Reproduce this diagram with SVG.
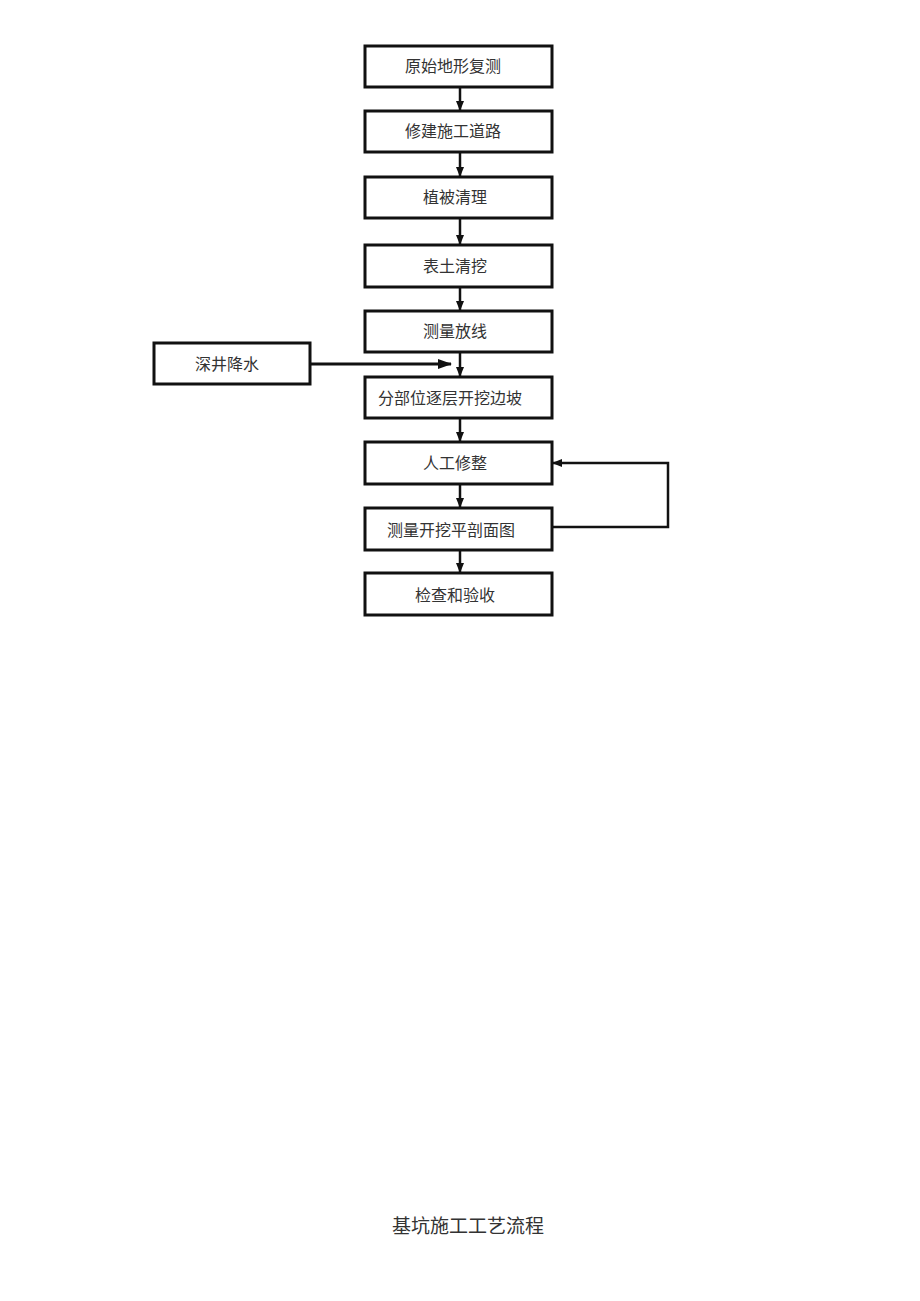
<svg xmlns="http://www.w3.org/2000/svg" width="920" height="1301" viewBox="0 0 920 1301">
<style>
.box{fill:#fff;stroke:#111;stroke-width:3}
.t{font-family:"Liberation Serif","Noto Sans CJK SC",serif;font-size:16px;fill:#333;text-anchor:middle;dominant-baseline:central}
.c{fill:none;stroke:#111;stroke-width:2.5}
</style>
<defs>
<marker id="ah" markerWidth="10" markerHeight="8" refX="9" refY="4" orient="auto" markerUnits="userSpaceOnUse">
<path d="M0,0 L10,4 L0,8 Z" fill="#111"/>
</marker>
<marker id="ahb" markerWidth="14" markerHeight="10" refX="13" refY="5" orient="auto" markerUnits="userSpaceOnUse">
<path d="M0,0 L14,5 L0,10 Z" fill="#111"/>
</marker>
</defs>
<rect width="920" height="1301" fill="#fff"/>
<g id="connectors">
<line class="c" x1="460" y1="87" x2="460" y2="110" marker-end="url(#ah)"/>
<line class="c" x1="460" y1="152" x2="460" y2="176" marker-end="url(#ah)"/>
<line class="c" x1="460" y1="218" x2="460" y2="244" marker-end="url(#ah)"/>
<line class="c" x1="460" y1="287" x2="460" y2="310" marker-end="url(#ah)"/>
<line class="c" x1="460" y1="352" x2="460" y2="376" marker-end="url(#ah)"/>
<line class="c" x1="310" y1="364" x2="451" y2="364" style="stroke-width:3" marker-end="url(#ahb)"/>
<line class="c" x1="460" y1="418" x2="460" y2="441" marker-end="url(#ah)"/>
<line class="c" x1="460" y1="484" x2="460" y2="507" marker-end="url(#ah)"/>
<line class="c" x1="460" y1="550" x2="460" y2="572" marker-end="url(#ah)"/>
<polyline class="c" points="552,527 668,527 668,463 553,463" marker-end="url(#ah)"/>
</g>
<g id="n1"><rect class="box" x="365" y="46" width="187" height="41"/><text class="t" x="453" y="66">原始地形复测</text></g>
<g id="n2"><rect class="box" x="365" y="111" width="187" height="41"/><text class="t" x="453" y="131">修建施工道路</text></g>
<g id="n3"><rect class="box" x="365" y="177" width="187" height="41"/><text class="t" x="455" y="197">植被清理</text></g>
<g id="n4"><rect class="box" x="365" y="245" width="187" height="42"/><text class="t" x="455" y="266">表土清挖</text></g>
<g id="n5"><rect class="box" x="365" y="311" width="187" height="41"/><text class="t" x="455" y="331">测量放线</text></g>
<g id="n6"><rect class="box" x="154" y="343" width="156" height="41"/><text class="t" x="227" y="364">深井降水</text></g>
<g id="n7"><rect class="box" x="365" y="377" width="187" height="41"/><text class="t" x="450" y="398">分部位逐层开挖边坡</text></g>
<g id="n8"><rect class="box" x="365" y="442" width="187" height="42"/><text class="t" x="455" y="463">人工修整</text></g>
<g id="n9"><rect class="box" x="365" y="508" width="187" height="42"/><text class="t" x="451" y="530">测量开挖平剖面图</text></g>
<g id="n10"><rect class="box" x="365" y="573" width="187" height="42"/><text class="t" x="455" y="595">检查和验收</text></g>
<text class="t" x="468" y="1226" style="font-size:19px">基坑施工工艺流程</text>
</svg>
